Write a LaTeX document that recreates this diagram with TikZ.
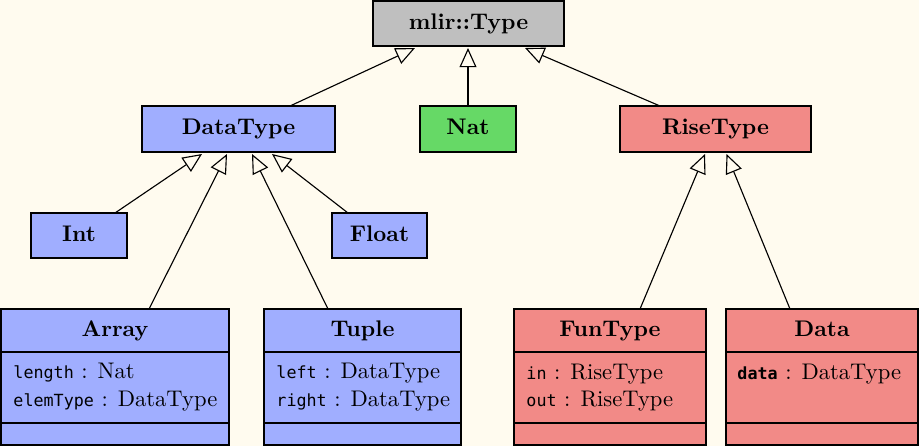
\documentclass[tikz,border=0pt]{standalone}
\usepackage{fontspec}
\newfontfamily\codefont{DejaVu Sans Mono}[Scale=0.74]
\usetikzlibrary{arrows.meta,calc}
\definecolor{bgc}{HTML}{FFFBEF}
\definecolor{grayc}{HTML}{BFBFBF}
\definecolor{bluec}{HTML}{A0AEFF}
\definecolor{greenc}{HTML}{66D966}
\definecolor{redc}{HTML}{F28A87}
\def\pxu{0.4425pt}
\begin{document}
\begin{tikzpicture}[x=0.4425pt,y=-0.4425pt,
  box/.style={draw=black, line width=0.6pt, inner sep=0pt, outer sep=0pt,
    font=\bfseries, text height=6.94pt, text depth=1.94pt},
  cbox/.style={draw=black, line width=0.6pt, inner sep=0pt, outer sep=0pt,
    minimum height=136*\pxu},
  ctitle/.style={anchor=base, inner sep=0pt, font=\bfseries},
  attr/.style={anchor=base west, inner sep=0pt},
  sep/.style={line width=0.6pt},
  inh/.style={line width=0.5pt, -{Triangle[open, length=8.5pt, width=7.5pt]}}]
\fill[bgc] (0,0) rectangle (919,446);
\useasboundingbox (0,0) rectangle (919,446);

% simple boxes
\node[box, fill=grayc, minimum width=191*\pxu, minimum height=45*\pxu] (top) at (468.5,23.5) {mlir::Type};
\node[box, fill=bluec, minimum width=193*\pxu, minimum height=46*\pxu] (dt) at (238.5,129) {DataType};
\node[box, fill=greenc, minimum width=96*\pxu, minimum height=46*\pxu] (nat) at (468,129) {Nat};
\node[box, fill=redc, minimum width=191*\pxu, minimum height=46*\pxu] (rt) at (715.5,129) {RiseType};
\node[box, fill=bluec, minimum width=96*\pxu, minimum height=45*\pxu] (int) at (79,235.5) {Int};
\node[box, fill=bluec, minimum width=95*\pxu, minimum height=45*\pxu] (flt) at (379.5,235.5) {Float};

% class boxes
\node[cbox, fill=bluec, minimum width=228*\pxu] (arr) at (115,377) {};
\node[cbox, fill=bluec, minimum width=197*\pxu] (tup) at (362.5,377) {};
\node[cbox, fill=redc, minimum width=192*\pxu] (fun) at (610,377) {};
\node[cbox, fill=redc, minimum width=192*\pxu] (dat) at (822,377) {};

\foreach \b in {arr,tup,fun,dat}{
  \draw[sep] ($(\b.north west)+(0,43)$) -- ($(\b.north east)+(0,43)$);
  \draw[sep] ($(\b.north west)+(0,114)$) -- ($(\b.north east)+(0,114)$);
}

\node[ctitle] (arrt) at ($(arr.north)+(0,27)$) {Array};
\node[attr] (arra) at ($(arr.north west)+(12,69)$) {{\codefont length} : Nat};
\node[attr] (arrb) at ($(arr.north west)+(12,97)$) {{\codefont elemType} : DataType};

\node[ctitle] (tupt) at ($(tup.north)+(0,27)$) {Tuple};
\node[attr] (tupa) at ($(tup.north west)+(12,69)$) {{\codefont left} : DataType};
\node[attr] (tupb) at ($(tup.north west)+(12,97)$) {{\codefont right} : DataType};

\node[ctitle] (funt) at ($(fun.north)+(0,27)$) {FunType};
\node[attr] (funa) at ($(fun.north west)+(12,70)$) {{\codefont in} : RiseType};
\node[attr] (funb) at ($(fun.north west)+(12,97)$) {{\codefont out} : RiseType};

\node[ctitle] (datt) at ($(dat.north)+(0,27)$) {Data};
\node[attr] (data) at ($(dat.north west)+(11,70)$) {{\codefont\bfseries data} : DataType};

% inheritance
\draw[inh] ($(dt.north)+(51.5,0)$) -- ($(top.south)+(-53.5,2)$);
\draw[inh] (nat.north) -- ($(nat.north|-top.south)+(0,2)$);
\draw[inh] ($(rt.north)+(-55.5,0)$) -- ($(top.south)+(56.5,2)$);

\draw[inh] ($(int.north)+(36,0)$) -- ($(dt.south)+(-36.5,2)$);
\draw[inh] ($(arr.north)+(34,0)$) -- ($(dt.south)+(-11.5,2)$);
\draw[inh] ($(tup.north)+(-34.5,0)$) -- ($(dt.south)+(13.5,2)$);
\draw[inh] ($(flt.north)+(-31.5,0)$) -- ($(dt.south)+(33.5,2)$);

\draw[inh] ($(fun.north)+(30,0)$) -- ($(rt.south)+(-10.5,2)$);
\draw[inh] ($(dat.north)+(-32,0)$) -- ($(rt.south)+(11,2)$);
\end{tikzpicture}
\end{document}
